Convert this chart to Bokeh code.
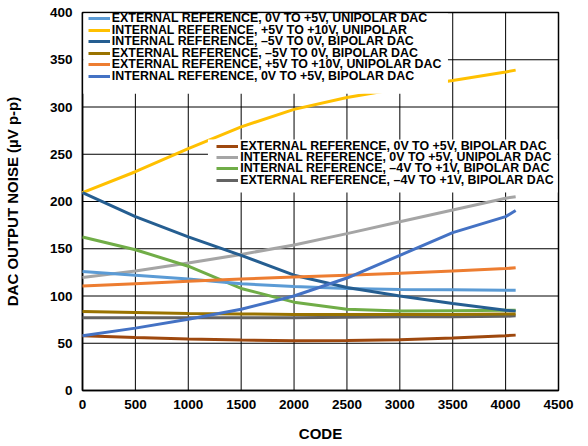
from bokeh.plotting import figure
from bokeh.models import Range1d, FixedTicker, Legend, LegendItem, BoxAnnotation
from bokeh.embed import file_html
from bokeh.resources import INLINE

codes = [0, 500, 1000, 1500, 2000, 2500, 3000, 3500, 4000, 4095]

ext_0_5_uni = [126, 122, 118, 113, 110, 108, 107, 106.5, 106, 106]
int_5_10_uni = [209.5, 231.5, 256, 279, 297.5, 310, 319.5, 328, 337, 339]
int_m5_0_bip = [209.5, 184, 162.5, 143, 122, 109, 100, 92, 85, 84]
ext_m5_0_bip = [83.5, 82.5, 81.5, 81, 80.5, 80.5, 80.5, 80.5, 81, 81]
ext_5_10_uni = [110.5, 113, 115.5, 118, 120, 122, 124, 126.5, 129, 130]
int_0_5_bip = [58, 66, 75.5, 86, 100, 119, 143, 167, 184, 190.5]
ext_0_5_bip = [58, 56, 54.5, 53.5, 52.6, 52.8, 53.7, 55.5, 58, 58.6]
int_0_5_uni = [119.5, 126.5, 135, 144, 154, 166, 178.5, 191, 203.5, 205]
int_m4_1_bip = [162.5, 149, 131.5, 108, 93.5, 86, 84, 84.5, 85, 85]
ext_m4_1_bip = [77, 77, 77, 77, 77, 77.5, 78, 78, 78.5, 79]

series1 = [
    ("EXTERNAL REFERENCE, 0V TO +5V, UNIPOLAR DAC", ext_0_5_uni, "#5B9BD5"),
    ("INTERNAL REFERENCE, +5V TO +10V, UNIPOLAR", int_5_10_uni, "#FFC000"),
    ("INTERNAL REFERENCE, \u20135V TO 0V, BIPOLAR DAC", int_m5_0_bip, "#255E91"),
    ("EXTERNAL REFERENCE, \u20135V TO 0V, BIPOLAR DAC", ext_m5_0_bip, "#997300"),
    ("EXTERNAL REFERENCE, +5V TO +10V, UNIPOLAR DAC", ext_5_10_uni, "#ED7D31"),
    ("INTERNAL REFERENCE, 0V TO +5V, BIPOLAR DAC", int_0_5_bip, "#4472C4"),
]
series2 = [
    ("EXTERNAL REFERENCE, 0V TO +5V, BIPOLAR DAC", ext_0_5_bip, "#9E480E"),
    ("INTERNAL REFERENCE, 0V TO +5V, UNIPOLAR DAC", int_0_5_uni, "#A5A5A5"),
    ("INTERNAL REFERENCE, \u20134V TO +1V, BIPOLAR DAC", int_m4_1_bip, "#70AD47"),
    ("EXTERNAL REFERENCE, \u20134V TO +1V, BIPOLAR DAC", ext_m4_1_bip, "#636363"),
]

x_ticks = [0, 500, 1000, 1500, 2000, 2500, 3000, 3500, 4000, 4500]
y_ticks = [0, 50, 100, 150, 200, 250, 300, 350, 400]

FONT = "Liberation Sans"

xr = Range1d(0, 4500)
yr = Range1d(0, 400)
p = figure(width=588, height=446, output_backend="svg", toolbar_location=None,
           x_range=xr, y_range=yr,
           min_border_left=82, min_border_right=29, min_border_top=12, min_border_bottom=56)
p.frame_width = 476
p.frame_height = 378

p.outline_line_color = "black"
p.outline_line_width = 1.5

xt = FixedTicker(ticks=x_ticks)
yt = FixedTicker(ticks=y_ticks)
p.xaxis.ticker = xt
p.yaxis.ticker = yt
for ax in (p.xaxis, p.yaxis):
    ax.axis_line_color = "black"
    ax.axis_line_width = 1.5
    ax.major_tick_out = 0
    ax.major_tick_in = 0
    ax.minor_tick_out = 0
    ax.minor_tick_in = 0
    ax.major_label_text_font = FONT
    ax.major_label_text_font_style = "bold"
    ax.major_label_text_font_size = "13.5px"
    ax.major_label_text_color = "black"
    ax.axis_label_text_font = FONT
    ax.axis_label_text_font_style = "bold"
    ax.axis_label_text_font_size = "15px"
    ax.axis_label_text_color = "black"

p.xaxis.axis_label = "CODE"
p.yaxis.axis_label = "DAC OUTPUT NOISE (\u00b5V p-p)"
p.xaxis.major_label_standoff = 9
p.yaxis.major_label_standoff = 10
p.xaxis.axis_label_standoff = 13
p.yaxis.axis_label_standoff = 26

p.xgrid.visible = False
p.ygrid.visible = False
# grid lines drawn as segments at the tick values, spanning the axis ranges
p.segment(x0=x_ticks, y0=[yr.start] * len(x_ticks), x1=x_ticks, y1=[yr.end] * len(x_ticks),
          line_color="black", line_width=1, level="annotation")
p.segment(x0=[xr.start] * len(y_ticks), y0=y_ticks, x1=[xr.end] * len(y_ticks), y1=y_ticks,
          line_color="black", line_width=1, level="annotation")

r_map = {}
for label, vals, col in series2 + series1:
    r_map[label] = p.line(codes, vals, line_color=col, line_width=3, level="annotation")

# white panels behind the two legend blocks (above the curves)
p.add_layout(BoxAnnotation(left=8, right=3455, bottom=314, top=399, fill_color="white",
                           fill_alpha=1, line_color=None, level="overlay"))
p.add_layout(BoxAnnotation(left=1186, right=4492, bottom=209.5, top=265.6, fill_color="white",
                           fill_alpha=1, line_color=None, level="overlay"))


def row_legend(label, loc):
    lg = Legend(items=[LegendItem(label=label, renderers=[r_map[label]])], location=loc,
                level="overlay")
    lg.label_text_font = FONT
    lg.label_text_font_style = "bold"
    lg.label_text_font_size = "12.4px"
    lg.label_text_color = "black"
    lg.label_height = 16
    lg.glyph_height = 16
    lg.glyph_width = 22
    lg.label_standoff = 2
    lg.spacing = 0
    lg.padding = 0
    lg.margin = 0
    lg.border_line_color = None
    lg.background_fill_alpha = 0
    return lg

for i, (label, vals, col) in enumerate(series1):
    p.add_layout(row_legend(label, (5.8, 363.7 - 11.5 * i)), "center")
for i, (label, vals, col) in enumerate(series2):
    p.add_layout(row_legend(label, (134.2, 236.5 - 11.4 * i)), "center")

open("out.html", "w").write(file_html(p, INLINE))
